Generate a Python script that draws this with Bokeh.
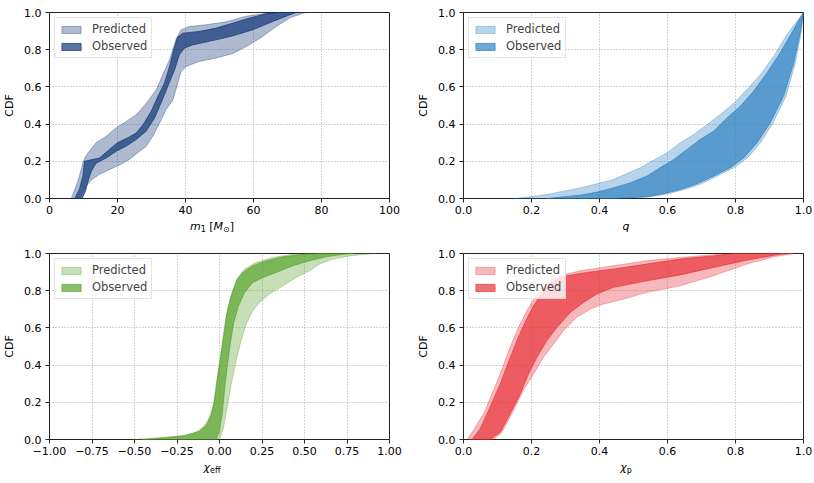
from bokeh.plotting import figure
from bokeh.layouts import column, row
from bokeh.models import Range1d, FixedTicker, Div
from bokeh.embed import file_html
from bokeh.resources import INLINE

# ---------------- data ----------------
# each band = upper CDF bound (x, y) and lower CDF bound (x, y)
m1_pred_up_x = [6.4, 7.8, 8.8, 9.8, 10.6, 11.3, 13.7, 16.7, 19.6, 23.0, 25.5, 28.4, 31.4, 33.3, 35.3, 37.3, 38.7, 41.2, 46.0, 52.0, 57.8, 62.7, 66.7]
m1_pred_up_y = [0.0, 0.066, 0.12, 0.19, 0.227, 0.245, 0.30, 0.335, 0.38, 0.42, 0.45, 0.51, 0.585, 0.665, 0.746, 0.86, 0.907, 0.925, 0.934, 0.95, 0.98, 0.993, 1.0]
m1_pred_lo_x = [8.8, 10.8, 12.3, 14.7, 17.6, 20.6, 23.5, 26.5, 28.4, 30.4, 32.4, 34.3, 36.3, 37.7, 38.7, 40.2, 44.0, 49.0, 54.0, 58.8, 62.7, 66.7, 70.6, 74.5, 75.5]
m1_pred_lo_y = [0.0, 0.066, 0.10, 0.13, 0.155, 0.18, 0.21, 0.254, 0.28, 0.335, 0.406, 0.478, 0.53, 0.62, 0.683, 0.71, 0.737, 0.755, 0.78, 0.826, 0.871, 0.925, 0.97, 0.996, 1.0]
m1_obs_up_x = [7.4, 8.8, 9.8, 10.3, 14.7, 17.6, 20.0, 23.0, 25.5, 27.5, 29.9, 31.9, 33.8, 35.3, 36.8, 37.7, 39.2, 44.0, 49.0, 54.0, 58.8, 63.7, 66.7]
m1_obs_up_y = [0.0, 0.05, 0.12, 0.20, 0.218, 0.263, 0.30, 0.326, 0.352, 0.397, 0.469, 0.549, 0.62, 0.71, 0.817, 0.868, 0.889, 0.898, 0.916, 0.943, 0.97, 0.993, 1.0]
m1_obs_lo_x = [9.6, 10.6, 11.3, 12.3, 13.7, 16.7, 19.6, 22.5, 25.5, 28.4, 30.9, 32.8, 34.8, 36.8, 38.2, 39.7, 42.2, 49.0, 54.0, 59.8, 65.7, 70.6, 72.5]
m1_obs_lo_y = [0.0, 0.04, 0.093, 0.147, 0.19, 0.218, 0.254, 0.281, 0.317, 0.361, 0.433, 0.513, 0.603, 0.692, 0.773, 0.809, 0.826, 0.853, 0.875, 0.907, 0.952, 0.987, 1.0]

q_pred_up_x = [0.15, 0.196, 0.245, 0.294, 0.343, 0.392, 0.441, 0.48, 0.52, 0.559, 0.598, 0.637, 0.676, 0.716, 0.755, 0.794, 0.833, 0.873, 0.912, 0.951, 0.98, 1.0]
q_pred_up_y = [0.0, 0.009, 0.021, 0.039, 0.057, 0.079, 0.102, 0.134, 0.165, 0.206, 0.245, 0.299, 0.343, 0.397, 0.451, 0.51, 0.585, 0.665, 0.764, 0.88, 0.952, 1.0]
q_pred_lo_x = [0.45, 0.55, 0.60, 0.65, 0.70, 0.745, 0.795, 0.835, 0.873, 0.91, 0.948, 0.976, 0.993, 1.0]
q_pred_lo_y = [0.0, 0.009, 0.025, 0.048, 0.079, 0.12, 0.165, 0.218, 0.299, 0.406, 0.549, 0.728, 0.889, 1.0]
q_obs_up_x = [0.245, 0.294, 0.343, 0.392, 0.441, 0.49, 0.539, 0.578, 0.618, 0.657, 0.696, 0.735, 0.775, 0.814, 0.853, 0.892, 0.931, 0.971, 1.0]
q_obs_up_y = [0.0, 0.009, 0.018, 0.034, 0.057, 0.084, 0.12, 0.165, 0.209, 0.263, 0.317, 0.361, 0.433, 0.496, 0.576, 0.674, 0.782, 0.907, 1.0]
q_obs_lo_x = [0.441, 0.539, 0.588, 0.637, 0.686, 0.735, 0.784, 0.824, 0.863, 0.902, 0.941, 0.971, 0.99, 1.0]
q_obs_lo_y = [0.0, 0.009, 0.025, 0.048, 0.079, 0.12, 0.165, 0.218, 0.299, 0.406, 0.549, 0.728, 0.889, 1.0]

chieff_pred_up_x = [-0.51, -0.41, -0.314, -0.216, -0.137, -0.098, -0.069, -0.039, -0.024, -0.01, 0.01, 0.029, 0.049, 0.078, 0.108, 0.147, 0.216, 0.314, 0.412, 0.51]
chieff_pred_up_y = [0.0, 0.005, 0.013, 0.021, 0.039, 0.066, 0.102, 0.174, 0.263, 0.352, 0.478, 0.603, 0.71, 0.80, 0.871, 0.916, 0.952, 0.979, 0.993, 1.0]
chieff_pred_lo_x = [0.0, 0.024, 0.049, 0.073, 0.098, 0.127, 0.157, 0.196, 0.235, 0.294, 0.373, 0.451, 0.529, 0.588, 0.667, 0.765, 0.863, 0.92]
chieff_pred_lo_y = [0.0, 0.066, 0.191, 0.317, 0.424, 0.531, 0.621, 0.692, 0.737, 0.782, 0.826, 0.871, 0.907, 0.943, 0.97, 0.987, 0.996, 1.0]
chieff_obs_up_x = [-0.451, -0.314, -0.196, -0.118, -0.078, -0.049, -0.029, -0.014, 0.004, 0.024, 0.043, 0.069, 0.102, 0.137, 0.196, 0.275, 0.373, 0.47, 0.588]
chieff_obs_up_y = [0.0, 0.009, 0.021, 0.045, 0.075, 0.129, 0.209, 0.317, 0.424, 0.549, 0.674, 0.773, 0.857, 0.898, 0.934, 0.961, 0.982, 0.993, 1.0]
chieff_obs_lo_x = [-0.02, 0.0, 0.016, 0.029, 0.045, 0.063, 0.082, 0.108, 0.147, 0.196, 0.255, 0.333, 0.431, 0.529, 0.627, 0.725, 0.784]
chieff_obs_lo_y = [0.0, 0.048, 0.138, 0.263, 0.388, 0.513, 0.621, 0.71, 0.79, 0.844, 0.871, 0.898, 0.934, 0.961, 0.982, 0.996, 1.0]

chip_pred_up_x = [0.01, 0.029, 0.059, 0.088, 0.113, 0.137, 0.162, 0.186, 0.216, 0.245, 0.284, 0.343, 0.441, 0.539, 0.637, 0.735, 0.784]
chip_pred_up_y = [0.0, 0.048, 0.138, 0.263, 0.379, 0.496, 0.603, 0.692, 0.782, 0.844, 0.88, 0.907, 0.934, 0.961, 0.979, 0.993, 1.0]
chip_pred_lo_x = [0.088, 0.113, 0.142, 0.176, 0.206, 0.235, 0.265, 0.294, 0.333, 0.373, 0.412, 0.471, 0.539, 0.637, 0.735, 0.833, 0.912, 0.97]
chip_pred_lo_y = [0.0, 0.039, 0.138, 0.263, 0.352, 0.442, 0.513, 0.585, 0.657, 0.701, 0.728, 0.755, 0.791, 0.826, 0.88, 0.943, 0.982, 1.0]
chip_obs_up_x = [0.025, 0.049, 0.078, 0.108, 0.132, 0.157, 0.181, 0.206, 0.235, 0.265, 0.304, 0.363, 0.441, 0.539, 0.637, 0.735, 0.794]
chip_obs_up_y = [0.0, 0.057, 0.174, 0.299, 0.415, 0.531, 0.63, 0.719, 0.80, 0.853, 0.88, 0.898, 0.916, 0.943, 0.97, 0.987, 1.0]
chip_obs_lo_x = [0.078, 0.108, 0.137, 0.167, 0.191, 0.216, 0.245, 0.275, 0.314, 0.353, 0.392, 0.441, 0.539, 0.637, 0.735, 0.833, 0.931, 0.97]
chip_obs_lo_y = [0.0, 0.039, 0.138, 0.245, 0.352, 0.442, 0.531, 0.603, 0.683, 0.737, 0.782, 0.818, 0.853, 0.885, 0.925, 0.964, 0.996, 1.0]

# ticks
y_ticks = [0.0, 0.2, 0.4, 0.6, 0.8, 1.0]
y_tick_labels = ["0.0", "0.2", "0.4", "0.6", "0.8", "1.0"]
m1_ticks = [0, 20, 40, 60, 80, 100]
m1_tick_labels = ["0", "20", "40", "60", "80", "100"]
unit_ticks = [0.0, 0.2, 0.4, 0.6, 0.8, 1.0]
unit_tick_labels = ["0.0", "0.2", "0.4", "0.6", "0.8", "1.0"]
chieff_ticks = [-1.0, -0.75, -0.5, -0.25, 0.0, 0.25, 0.5, 0.75, 1.0]
chieff_tick_labels = ["\u22121.00", "\u22120.75", "\u22120.50", "\u22120.25", "0.00", "0.25", "0.50", "0.75", "1.00"]

legend_labels = ["Predicted", "Observed"]
y_label = "CDF"
SUB = '<span style="font-size:8px;vertical-align:-2px">{}</span>'
x_labels = [
    "<i>m</i>" + SUB.format("1") + " [<i>M</i>" + SUB.format("\u2299") + "]",
    "<i>q</i>",
    "<i>\u03c7</i>" + SUB.format("eff"),
    "<i>\u03c7</i>" + SUB.format("p"),
]

FONT = "DejaVu Sans"
FS = "11px"
FW, FH = 340, 186  # frame size in px


def make_panel(xr, xticks, xlabels, bands, color, b_right):
    p = figure(frame_width=FW, frame_height=FH, x_range=Range1d(*xr), y_range=Range1d(0, 1),
               output_backend="svg", toolbar_location=None,
               min_border_left=42, min_border_right=b_right,
               min_border_top=12, min_border_bottom=22)
    p.background_fill_color = "white"
    p.border_fill_color = "white"
    p.outline_line_color = "#222222"
    p.outline_line_width = 1

    for (ux, uy, lx, ly), alpha, lab in zip(bands, (0.35, 0.7), legend_labels):
        xs = list(ux) + list(lx)[::-1]
        ys = list(uy) + list(ly)[::-1]
        p.patch(xs, ys, fill_color=color, fill_alpha=alpha, line_color=color,
                line_alpha=alpha, line_width=1, legend_label=lab)

    p.xaxis.ticker = FixedTicker(ticks=xticks)
    p.xaxis.major_label_overrides = {t: s for t, s in zip(xticks, xlabels)}
    p.yaxis.ticker = FixedTicker(ticks=y_ticks)
    p.yaxis.major_label_overrides = {t: s for t, s in zip(y_ticks, y_tick_labels)}
    p.yaxis.axis_label = y_label

    for ax in (p.xaxis[0], p.yaxis[0]):
        ax.axis_line_color = None
        ax.major_tick_in = 0
        ax.major_tick_out = 4
        ax.major_tick_line_color = "#222222"
        ax.minor_tick_line_color = None
        ax.major_label_text_font = FONT
        ax.major_label_text_font_size = FS
        ax.major_label_text_color = "black"
        ax.axis_label_text_font = FONT
        ax.axis_label_text_font_size = FS
        ax.axis_label_text_font_style = "normal"
        ax.axis_label_text_color = "black"
    p.xaxis.major_label_standoff = 3
    p.yaxis.major_label_standoff = 4
    p.yaxis.axis_label_standoff = 5

    p.xgrid.ticker = FixedTicker(ticks=xticks)
    p.ygrid.ticker = FixedTicker(ticks=y_ticks)
    for g in (p.xgrid[0], p.ygrid[0]):
        g.grid_line_color = "#a8a8a8"
        g.grid_line_dash = "1 2"
        g.grid_line_width = 1

    lg = p.legend[0]
    lg.location = "top_left"
    lg.margin = 5
    lg.padding = 4
    lg.spacing = 3
    lg.label_height = 14
    lg.glyph_height = 9
    lg.glyph_width = 24
    lg.label_standoff = 9
    lg.label_text_font = FONT
    lg.label_text_font_size = "11.5px"
    lg.background_fill_alpha = 0.8
    lg.border_line_color = "#cccccc"
    lg.border_line_width = 1
    return p


def x_title(html, height, shift):
    return Div(text=html, width=FW, height=height, margin=(0, 0, 0, 42),
               styles={"font-family": FONT, "font-size": FS, "line-height": "13px",
                       "text-align": "center", "color": "black",
                       "position": "relative", "top": "%dpx" % shift})


p1 = make_panel((0, 100), m1_ticks, m1_tick_labels,
                [(m1_pred_up_x, m1_pred_up_y, m1_pred_lo_x, m1_pred_lo_y),
                 (m1_obs_up_x, m1_obs_up_y, m1_obs_lo_x, m1_obs_lo_y)],
                "#133877", 25)
p2 = make_panel((0, 1), unit_ticks, unit_tick_labels,
                [(q_pred_up_x, q_pred_up_y, q_pred_lo_x, q_pred_lo_y),
                 (q_obs_up_x, q_obs_up_y, q_obs_lo_x, q_obs_lo_y)],
                "#3083c2", 9)
p3 = make_panel((-1, 1), chieff_ticks, chieff_tick_labels,
                [(chieff_pred_up_x, chieff_pred_up_y, chieff_pred_lo_x, chieff_pred_lo_y),
                 (chieff_obs_up_x, chieff_obs_up_y, chieff_obs_lo_x, chieff_obs_lo_y)],
                "#5ba431", 25)
p4 = make_panel((0, 1), unit_ticks, unit_tick_labels,
                [(chip_pred_up_x, chip_pred_up_y, chip_pred_lo_x, chip_pred_lo_y),
                 (chip_obs_up_x, chip_obs_up_y, chip_obs_lo_x, chip_obs_lo_y)],
                "#e7343b", 9)

top = row(column(p1, x_title(x_labels[0], 21, 0)), column(p2, x_title(x_labels[1], 21, 0)))
bottom = row(column(p3, x_title(x_labels[2], 13, 0)), column(p4, x_title(x_labels[3], 13, 0)))
page = column(top, bottom)
open("out.html", "w").write(file_html(page, INLINE))
